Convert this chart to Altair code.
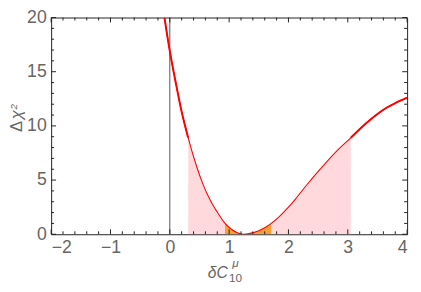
import altair as alt
import pandas as pd
import numpy as np

# Curve
xs = [-0.09, 0.0, 0.1, 0.2, 0.31, 0.45, 0.56, 0.7, 0.8, 0.93, 1.05, 1.15, 1.25,
      1.35, 1.5, 1.6, 1.71, 1.85, 2.0, 2.11, 2.3, 2.55, 2.8, 3.05, 3.3, 3.5,
      3.66, 3.8, 4.0]
ys = [20.0, 16.9, 14.0, 11.3, 8.9, 6.3, 4.6, 2.95, 2.05, 1.0, 0.42, 0.12, 0.0,
      0.08, 0.33, 0.6, 1.0, 1.65, 2.5, 3.2, 4.5, 6.1, 7.6, 8.9, 10.2, 11.1,
      11.7, 12.1, 12.6]

region3 = [0.31, 3.05]   # pink band
region1 = [0.93, 1.71]   # orange band
vline_x = [0.0]

x_major = [-2, -1, 0, 1, 2, 3, 4]
x_minor = [round(v, 1) for v in np.arange(-2, 4.01, 0.2) if abs(v - round(v)) > 1e-6]
y_major = [0, 5, 10, 15, 20]
y_minor = [v for v in range(0, 21) if v % 5 != 0]

W, H = 363, 221
df = pd.DataFrame({"x": xs, "y": ys})

xs_scale = alt.Scale(domain=[-2, 4], nice=False, zero=False)
ys_scale = alt.Scale(domain=[0, 20], nice=False, zero=False)

AX = dict(ticks=False, domain=False, grid=False, labelFontSize=18,
          labelColor="#666666", labelFont="Liberation Sans", labelPadding=5,
          title=None)

X = alt.X("x:Q", scale=xs_scale, axis=alt.Axis(values=x_major, **AX))
Y = alt.Y("y:Q", scale=ys_scale, axis=alt.Axis(values=y_major, **AX))

base = alt.Chart(df)

pink = base.mark_area(color="#FFD9DC", interpolate="monotone", clip=True).encode(
    x=X, y=Y).transform_filter(alt.FieldRangePredicate(field="x", range=region3))
orange = base.mark_area(color="#F7A038", interpolate="monotone", clip=True).encode(
    x=X, y=Y).transform_filter(alt.FieldRangePredicate(field="x", range=region1))

vline = alt.Chart(pd.DataFrame({"x": vline_x})).mark_rule(
    color="#555555", strokeWidth=1).encode(x=X, y=alt.value(0), y2=alt.value(H))

line_thin = base.mark_line(color="#FF0000", strokeWidth=1.1,
                           interpolate="monotone", clip=True).encode(x=X, y=Y)
line_left = base.mark_line(color="#FF0000", strokeWidth=2.0,
                           interpolate="monotone", clip=True).encode(x=X, y=Y).transform_filter(
    alt.datum.x <= region3[0])
line_right = base.mark_line(color="#FF0000", strokeWidth=2.0,
                            interpolate="monotone", clip=True).encode(x=X, y=Y).transform_filter(
    alt.datum.x >= region3[1])

def xticks(vals, ln):
    d = pd.DataFrame({"x": vals})
    b = alt.Chart(d).mark_rule(color="#222222", strokeWidth=1)
    return (b.encode(x=X, y=alt.value(H), y2=alt.value(H - ln)) +
            b.encode(x=X, y=alt.value(0), y2=alt.value(ln)))

def yticks(vals, ln):
    d = pd.DataFrame({"y": vals})
    b = alt.Chart(d).mark_rule(color="#222222", strokeWidth=1)
    return (b.encode(y=Y, x=alt.value(0), x2=alt.value(ln)) +
            b.encode(y=Y, x=alt.value(W), x2=alt.value(W - ln)))

ticks = xticks(x_major, 5) + xticks(x_minor, 3) + yticks(y_major, 5) + yticks(y_minor, 3)

def label(txt, x, y, size, style="normal", angle=0, baseline="alphabetic"):
    return alt.Chart(pd.DataFrame({"t": [txt]})).mark_text(
        font="Liberation Sans", fontSize=size, fontStyle=style, color="#666666",
        align="center", baseline=baseline, angle=angle).encode(
        text="t:N", x=alt.value(x), y=alt.value(y))

xtitle = (label("δC", 170, 266, 16, "italic") +
          label("μ", 188, 254, 12, "italic") +
          label("10", 188, 270, 12))
ytitle = (label("Δ", -30, 111, 17, angle=270) +
          label("χ", -30, 99, 17, "italic", angle=270) +
          label("2", -35, 91, 10, "italic", angle=270))

chart = alt.layer(pink, orange, vline, line_thin, line_left, line_right, ticks,
                  xtitle, ytitle).properties(
    width=W, height=H, autosize=alt.AutoSizeParams(type="none"),
    padding={"left": 44, "top": 7, "right": 6, "bottom": 48},
).configure_view(stroke="#222222", strokeWidth=1)

chart.save("out.html", embed_options={"renderer": "svg", "actions": False})
